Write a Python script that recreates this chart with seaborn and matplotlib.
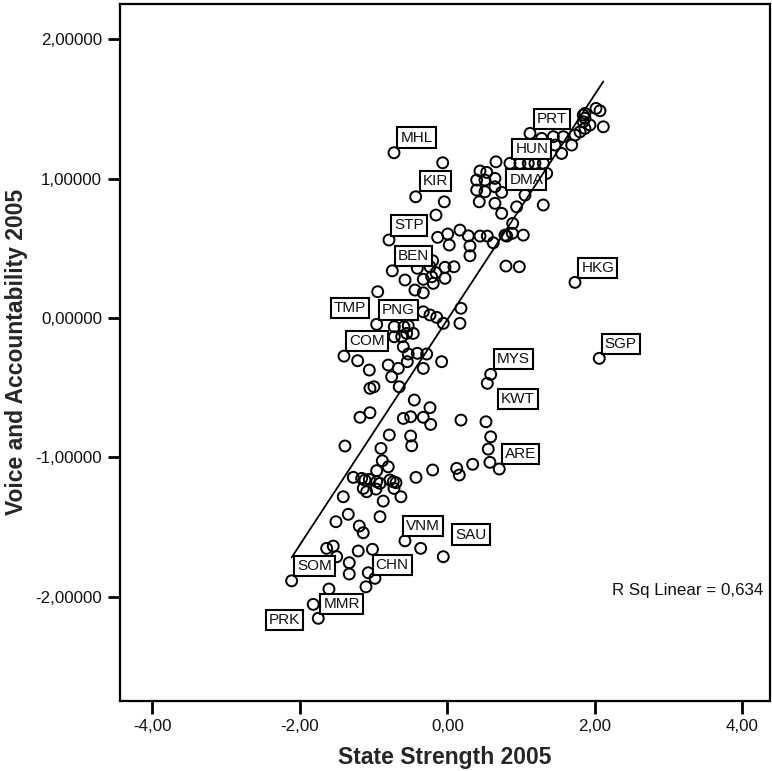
import numpy as np
import pandas as pd
import matplotlib
matplotlib.use("Agg")
import matplotlib.pyplot as plt
from matplotlib.ticker import FuncFormatter
import seaborn as sns

# ---------------- data ----------------
# unlabeled countries: State Strength 2005 (x), Voice and Accountability 2005 (y)
state_strength = [
    -0.065, -0.043, -0.156, -0.133, 0.003, 0.024, 0.169, 0.282, 0.305, 0.305,
    0.441, 0.540, 0.621, 0.803, 0.879, 0.884, 1.028, 0.793, 0.974, 1.299,
    1.051, 0.938, 0.735, 0.644, 0.644, 0.396, 0.508, 0.431, 0.396, 0.508,
    0.644, 0.441, 0.532, 0.658, 0.983, 1.096, 1.186, 1.299, 1.345, 1.277,
    1.435, 1.570, 1.458, 1.548, 1.684, 1.729, 1.797, 1.864, 1.932, 1.841,
    1.864, 1.841, 1.864, 2.014, 2.068, 2.113, 0.780,
    -0.576, -0.409, -0.237, -0.156, -0.034, 0.088, -0.034, -0.214, -0.328,
    -0.193, -0.201, -0.441, -0.328, -0.946, -0.328, -0.237, -0.146, -0.057,
    0.183, 0.169, -0.721, -0.590, -0.532, -0.464, -0.621, -0.599, -0.282,
    -0.532, -0.409, -0.545, -0.079, -1.218, -1.060, -0.803, -0.667, -0.328,
    -0.757, -0.654, -1.051, -0.997, -0.450, -0.237, -1.186, -1.051, -0.599,
    -0.499, -0.328, -0.228, 0.183, 0.522, -0.789, -0.499, -0.485, -1.390,
    -0.902, 0.586, 0.553, 0.576, 0.342, 0.125, 0.160, -0.201, -0.427,
    -0.884, -0.803, -0.960, -1.277, -1.163, -1.119, -1.060, -1.142, -1.096,
    -0.960, -0.915, -0.969, -0.780, -0.735, -0.698, -0.725, -0.631, -0.871,
    -1.413, -1.345, -0.915, -1.512, -1.196, -1.142, -0.363, -1.638, -1.549,
    -1.502, -1.210, -1.017, -1.332, -1.332, -1.074, -1.105, -1.607, -0.553,
]
voice_accountability = [
    1.114, 0.834, 0.739, 0.579, 0.603, 0.524, 0.631, 0.590, 0.517, 0.447,
    0.588, 0.588, 0.540, 0.588, 0.608, 0.679, 0.595, 0.373, 0.368, 0.811,
    0.882, 0.798, 0.751, 0.823, 0.942, 0.918, 0.906, 0.834, 0.990, 0.990,
    1.002, 1.055, 1.045, 1.121, 1.110, 1.110, 1.110, 1.110, 1.038, 1.289,
    1.301, 1.301, 1.241, 1.181, 1.241, 1.313, 1.336, 1.361, 1.385, 1.456,
    1.433, 1.408, 1.468, 1.504, 1.487, 1.372, 0.595,
    0.273, 0.357, 0.368, 0.325, 0.364, 0.368, 0.285, 0.296, 0.278,
    0.249, 0.411, 0.201, 0.181, 0.189, 0.045, 0.022, 0.005, -0.038,
    0.070, -0.038, -0.134, -0.062, -0.055, -0.110, -0.134, -0.206, -0.258,
    -0.258, -0.253, -0.313, -0.313, -0.306, -0.373, -0.337, -0.361, -0.361,
    -0.421, -0.493, -0.504, -0.493, -0.588, -0.643, -0.712, -0.679, -0.720,
    -0.708, -0.712, -0.763, -0.732, -0.744, -0.839, -0.846, -0.916, -0.918,
    -0.935, -0.852, -0.940, -1.035, -1.049, -1.078, -1.126, -1.090, -1.143,
    -1.024, -1.067, -1.095, -1.143, -1.150, -1.162, -1.157, -1.222, -1.246,
    -1.174, -1.186, -1.227, -1.162, -1.174, -1.181, -1.222, -1.282, -1.313,
    -1.282, -1.408, -1.425, -1.461, -1.492, -1.540, -1.652, -1.652, -1.636,
    -1.712, -1.671, -1.659, -1.755, -1.836, -1.827, -1.928, -1.944, -0.110,
]

# labeled countries
label_codes = ["MHL", "KIR", "STP", "BEN", "TMP", "PNG", "COM", "MYS", "KWT",
               "ARE", "SGP", "HKG", "VNM", "SAU", "SOM", "CHN", "MMR", "PRK",
               "PRT", "HUN", "DMA"]
label_state = [-0.725, -0.431, -0.793, -0.748, -0.960, -0.721, -1.403, 0.586,
               0.540, 0.702, 2.058, 1.729, -0.576, -0.057, -2.113, -0.983,
               -1.820, -1.752, 1.119, 0.847, 0.735]
label_voice = [1.186, 0.870, 0.560, 0.339, -0.045, -0.062, -0.273, -0.404,
               -0.468, -1.083, -0.289, 0.256, -1.598, -1.712, -1.885, -1.867,
               -2.054, -2.154, 1.325, 1.110, 0.902]

# linear fit line (SPSS fit line)
fit_intercept = -0.010
fit_slope = 0.808

x_ticks = [-4, -2, 0, 2, 4]
y_ticks = [-2, -1, 0, 1, 2]
r_sq_text = "R Sq Linear = 0,634"
x_title = "State Strength 2005"
y_title = "Voice and Accountability 2005"

# ---------------- layout (label box offsets in pixels) ----------------
label_offsets = {
    "MHL": (22.5, 15.2), "KIR": (19.6, 15.7), "STP": (20, 14.5), "BEN": (21, 15),
    "TMP": (-26.7, 16.3), "PNG": (4.2, 16.7), "COM": (22.7, 15.5),
    "MYS": (23, 15), "KWT": (30.5, -16), "ARE": (21.4, 15), "SGP": (21.4, 14.5),
    "HKG": (22.8, 14.8), "VNM": (18, 14.7), "SAU": (27.9, 22.2),
    "SOM": (23.3, 15.2), "CHN": (17.2, 13.3), "MMR": (28.4, 0.6),
    "PRK": (-33.6, -1.9), "PRT": (21.7, 14.3), "HUN": (22, 14.1),
    "DMA": (24.6, 12.8),
}

# ---------------- plotting ----------------
sns.set_style("white")
plt.rcParams["font.family"] = ["Liberation Sans", "DejaVu Sans"]

df = pd.DataFrame({
    "state": list(state_strength) + list(label_state),
    "voice": list(voice_accountability) + list(label_voice),
})

W, H = 772, 771
fig = plt.figure(figsize=(W / 100, H / 100), dpi=100)
ax = fig.add_axes([120 / W, 1 - 700.7 / H, 650 / W, 696.7 / H])

sns.scatterplot(data=df, x="state", y="voice", ax=ax, marker="o", s=62,
                facecolor="none", edgecolor="black", linewidth=1.4, zorder=2,
                legend=False)

for code, xv, yv in zip(label_codes, label_state, label_voice):
    dx, dy = label_offsets[code]
    ax.annotate(code, (xv, yv), xytext=(dx, dy), textcoords="offset pixels",
                ha="center", va="center", fontsize=11, color="#111111",
                bbox=dict(boxstyle="square,pad=0.2", fc="white", ec="black",
                          lw=1.5),
                zorder=4)

# fit line drawn across the observed x range
x_range = np.array([df["state"].min(), df["state"].max()])
fit_df = pd.DataFrame({"state": x_range,
                       "voice": fit_intercept + fit_slope * x_range})
sns.lineplot(data=fit_df, x="state", y="voice", ax=ax, color="black",
             lw=1.3, zorder=5)

ax.text(0.989, 0.158, r_sq_text, transform=ax.transAxes, ha="right",
        va="center", fontsize=12.2, color="#111111")

ax.set_xlim(-4.44, 4.373)
ax.set_ylim(-2.745, 2.253)
ax.set_xticks(x_ticks)
ax.set_yticks(y_ticks)
ax.xaxis.set_major_formatter(FuncFormatter(lambda v, p: f"{v:.2f}".replace(".", ",")))
ax.yaxis.set_major_formatter(FuncFormatter(lambda v, p: f"{v:.5f}".replace(".", ",")))
ax.tick_params(axis="both", direction="out", length=9, width=2, labelsize=12.2,
               pad=4, color="black", labelcolor="#111111")
ax.tick_params(top=False, right=False, bottom=True, left=True)

for side in ["top", "right", "bottom", "left"]:
    ax.spines[side].set_visible(True)
    ax.spines[side].set_linewidth(1.6)
    ax.spines[side].set_color("black")

ax.set_xlabel(x_title, fontsize=16.5, fontweight="bold", labelpad=9)
ax.set_ylabel(y_title, fontsize=16.5, fontweight="bold", labelpad=5)

fig.savefig("out.png", dpi=100)
